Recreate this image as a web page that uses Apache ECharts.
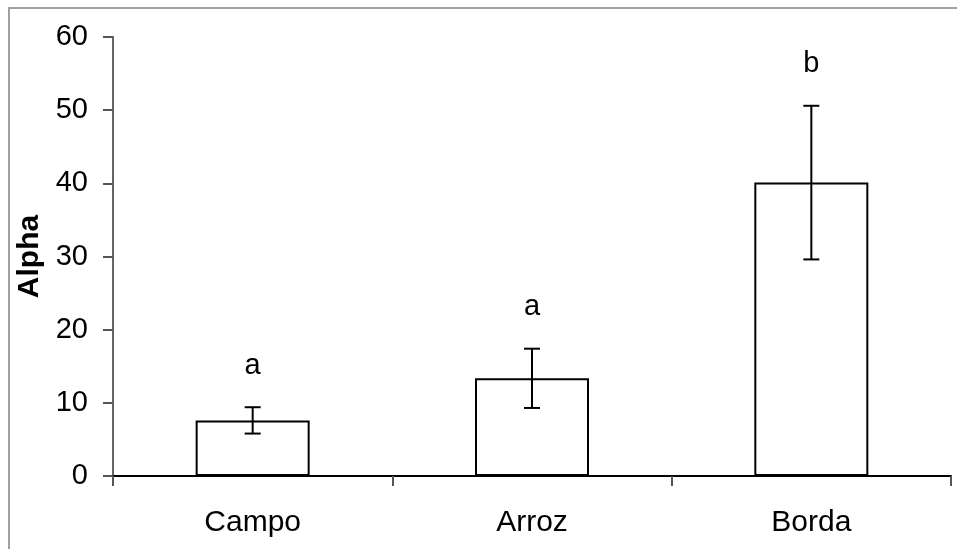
<!DOCTYPE html>
<html>
<head>
<meta charset="utf-8">
<style>
  html, body { margin: 0; padding: 0; background: #fff; }
  #chart { width: 957px; height: 549px; }
</style>
<script src="https://cdn.jsdelivr.net/npm/echarts@6/dist/echarts.min.js"></script>
</head>
<body>
<div id="chart"></div>
<script>
// Mean alpha diversity per habitat with standard error and group letters
const categories = ['Campo', 'Arroz', 'Borda'];
const means = [7.6, 13.35, 40.1];
const errors = [1.8, 4.05, 10.5];
const groupLetters = ['a', 'a', 'b'];
const yMin = 0, yMax = 60, yStep = 10;

const FONT = '"Liberation Sans", Arial, sans-serif';

const errorData = categories.map((c, i) => [i, means[i] - errors[i], means[i] + errors[i], groupLetters[i]]);

const chart = echarts.init(document.getElementById('chart'), null, { renderer: 'canvas' });

chart.setOption({
  animation: false,
  backgroundColor: '#fff',
  grid: { left: 113, right: 6, top: 37, bottom: 73, containLabel: false },
  graphic: [{
    type: 'polyline',
    shape: { points: [[9, 549], [9, 8], [957, 8]] },
    style: { stroke: '#a0a0a0', lineWidth: 2, fill: null },
    silent: true
  }],
  xAxis: {
    type: 'category',
    data: categories,
    boundaryGap: true,
    axisLine: { lineStyle: { color: '#000', width: 2 } },
    axisTick: { show: true, alignWithLabel: false, length: 10, lineStyle: { color: '#555', width: 2 } },
    axisLabel: { color: '#000', fontSize: 30, fontFamily: FONT, margin: 32 }
  },
  yAxis: {
    type: 'value',
    min: yMin, max: yMax, interval: yStep,
    name: 'Alpha',
    nameLocation: 'middle',
    nameRotate: 90,
    nameGap: 60,
    nameTextStyle: { color: '#000', fontSize: 30, fontWeight: 'bold', fontFamily: FONT },
    splitLine: { show: false },
    axisLine: { show: true, lineStyle: { color: '#666', width: 2 } },
    axisTick: { show: true, length: 10, lineStyle: { color: '#555', width: 2 } },
    axisLabel: { color: '#000', fontSize: 29, fontFamily: FONT, margin: 25 }
  },
  series: [
    {
      type: 'bar',
      data: means,
      barWidth: 114,
      itemStyle: { color: '#fff', borderColor: '#000', borderWidth: 2 },
      z: 2
    },
    {
      type: 'custom',
      data: errorData,
      z: 5,
      renderItem: function (params, api) {
        const x = api.value(0);
        const lo = api.coord([x, api.value(1)]);
        const hi = api.coord([x, api.value(2)]);
        const half = 8;
        const style = { stroke: '#000', lineWidth: 2 };
        return {
          type: 'group',
          children: [
            { type: 'line', shape: { x1: hi[0], y1: hi[1], x2: lo[0], y2: lo[1] }, style: style },
            { type: 'line', shape: { x1: hi[0] - half, y1: hi[1], x2: hi[0] + half, y2: hi[1] }, style: style },
            { type: 'line', shape: { x1: lo[0] - half, y1: lo[1], x2: lo[0] + half, y2: lo[1] }, style: style },
            {
              type: 'text',
              style: {
                text: groupLetters[params.dataIndex],
                x: hi[0], y: hi[1] - 27,
                align: 'center', verticalAlign: 'bottom',
                fontSize: 29, fontFamily: FONT, fill: '#000'
              }
            }
          ]
        };
      }
    }
  ]
});
</script>
</body>
</html>
